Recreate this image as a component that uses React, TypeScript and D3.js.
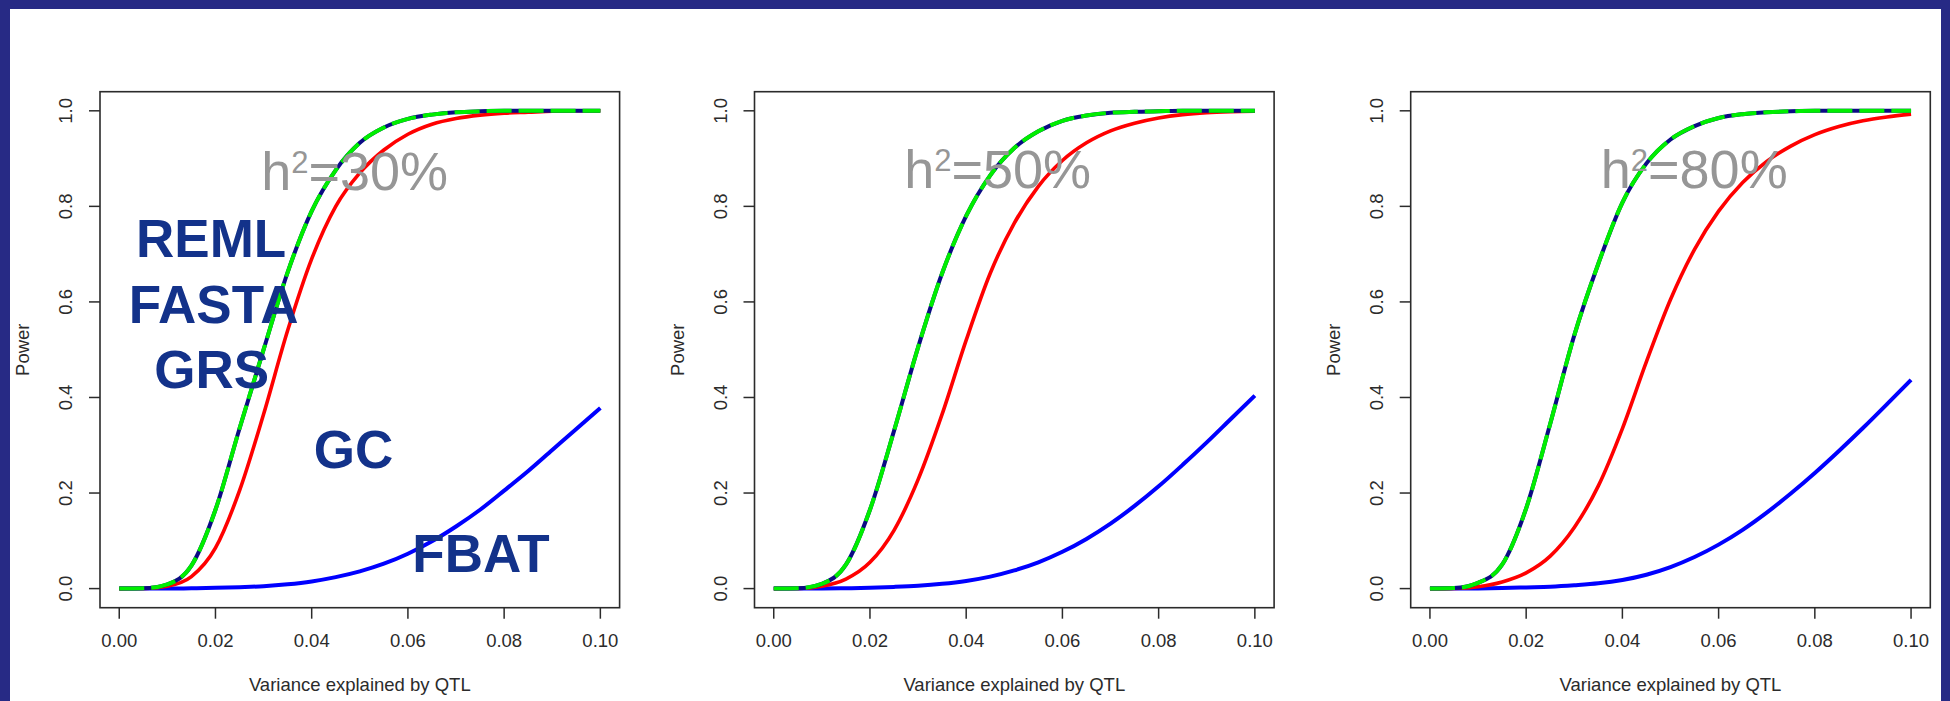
import React from "react";
import * as d3 from "d3";

// variance explained by the QTL (x) where the power curves were read
const varianceGrid = [
  0, 0.005, 0.01, 0.015, 0.02, 0.025, 0.03, 0.035, 0.04, 0.045, 0.05,
  0.055, 0.06, 0.065, 0.07, 0.075, 0.08, 0.085, 0.09, 0.095, 0.1,
];

// REML / FASTA / GRS (overlapping, navy + green dashed)
const remlPower30 = [0, 0.0005, 0.009, 0.048, 0.165, 0.335, 0.5, 0.662, 0.79, 0.876, 0.933, 0.965, 0.983, 0.992, 0.997, 0.999, 1, 1, 1, 1, 1];
const remlPower50 = [0, 0.0005, 0.01, 0.05, 0.165, 0.33, 0.505, 0.66, 0.78, 0.865, 0.922, 0.957, 0.979, 0.99, 0.996, 0.998, 0.999, 1, 1, 1, 1];
const remlPower80 = [0, 0.001, 0.012, 0.05, 0.168, 0.345, 0.53, 0.68, 0.808, 0.89, 0.94, 0.968, 0.985, 0.993, 0.997, 0.999, 1, 1, 1, 1, 1];

// GC (red)
const gcPower30 = [0, 0.0003, 0.005, 0.025, 0.085, 0.205, 0.365, 0.54, 0.69, 0.8, 0.87, 0.918, 0.951, 0.972, 0.984, 0.991, 0.995, 0.997, 0.999, 1, 1];
const gcPower50 = [0, 0.0003, 0.005, 0.02, 0.055, 0.122, 0.228, 0.365, 0.52, 0.66, 0.765, 0.842, 0.896, 0.933, 0.958, 0.974, 0.985, 0.992, 0.996, 0.998, 0.999];
const gcPower80 = [0, 0.0005, 0.004, 0.014, 0.033, 0.068, 0.128, 0.215, 0.335, 0.475, 0.605, 0.71, 0.79, 0.85, 0.894, 0.926, 0.95, 0.967, 0.979, 0.987, 0.993];

// FBAT (blue)
const fbatPower30 = [0, 0, 0.0002, 0.0006, 0.0015, 0.003, 0.005, 0.009, 0.015, 0.024, 0.036, 0.052, 0.073, 0.099, 0.13, 0.165, 0.205, 0.246, 0.29, 0.334, 0.378];
const fbatPower50 = [0, 0, 0.0002, 0.0007, 0.0017, 0.0035, 0.006, 0.01, 0.016, 0.025, 0.038, 0.055, 0.077, 0.104, 0.136, 0.173, 0.214, 0.259, 0.306, 0.355, 0.404];
const fbatPower80 = [0, 0, 0.0003, 0.001, 0.0025, 0.004, 0.007, 0.011, 0.018, 0.029, 0.045, 0.066, 0.092, 0.123, 0.159, 0.199, 0.242, 0.288, 0.336, 0.386, 0.437];

const heritabilities = ["30%", "50%", "80%"];
const methodLabels = ["REML", "FASTA", "GRS", "GC", "FBAT"];

const xTicks = [0, 0.02, 0.04, 0.06, 0.08, 0.1];
const yTicks = [0, 0.2, 0.4, 0.6, 0.8, 1.0];

const W = 1950;
const H = 701;
const frame = "#272a85";
const font = "'Liberation Sans', Arial, sans-serif";
const axisColor = "#2b2b2b";

const panelLefts = [100, 754.5, 1410.7];
const plotTop = 91.7;
const plotW = 519.6;
const plotH = 516;

// where the h2 text and the method names sit, in data units
const h2Pos = [
  { x: 0.0295, y: 0.834 },
  { x: 0.0271, y: 0.838 },
  { x: 0.0355, y: 0.838 },
];
const labelPos = [
  { x: 0.0191, y: 0.693 },
  { x: 0.0196, y: 0.555 },
  { x: 0.0192, y: 0.419 },
  { x: 0.0487, y: 0.252 },
  { x: 0.0752, y: 0.035 },
];

const panelData = [
  { reml: remlPower30, gc: gcPower30, fbat: fbatPower30 },
  { reml: remlPower50, gc: gcPower50, fbat: fbatPower50 },
  { reml: remlPower80, gc: gcPower80, fbat: fbatPower80 },
];

function Panel({ i }: { i: number }) {
  const left = panelLefts[i];
  const bottom = plotTop + plotH;
  const x = d3.scaleLinear().domain([-0.004, 0.104]).range([left, left + plotW]);
  const y = d3.scaleLinear().domain([-0.04, 1.04]).range([bottom, plotTop]);

  const line = (vals: number[]) =>
    d3
      .line<number>()
      .x((d, j) => x(varianceGrid[j]))
      .y((d) => y(d))
      .curve(d3.curveMonotoneX)(vals) as string;

  const data = panelData[i];

  return (
    <g>
      <rect x={left} y={plotTop} width={plotW} height={plotH} fill="none" stroke={axisColor} strokeWidth={1.6} />

      {/* y axis */}
      {yTicks.map((t) => (
        <g key={"y" + t}>
          <line x1={left - 11} x2={left} y1={y(t)} y2={y(t)} stroke={axisColor} strokeWidth={1.5} />
          <text
            transform={`translate(${left - 34},${y(t)}) rotate(-90)`}
            textAnchor="middle"
            dy="0.35em"
            fontSize={18.5}
            fontFamily={font}
            fill={axisColor}
          >
            {t.toFixed(1)}
          </text>
        </g>
      ))}
      <text
        transform={`translate(${left - 77},${plotTop + plotH / 2}) rotate(-90)`}
        textAnchor="middle"
        dy="0.35em"
        fontSize={18.5}
        fontFamily={font}
        fill={axisColor}
      >
        Power
      </text>

      {/* x axis */}
      {xTicks.map((t) => (
        <g key={"x" + t}>
          <line x1={x(t)} x2={x(t)} y1={bottom} y2={bottom + 11} stroke={axisColor} strokeWidth={1.5} />
          <text x={x(t)} y={bottom + 33} dy="0.35em" textAnchor="middle" fontSize={18.5} fontFamily={font} fill={axisColor}>
            {t.toFixed(2)}
          </text>
        </g>
      ))}
      <text
        x={left + plotW / 2}
        y={bottom + 77}
        dy="0.35em"
        textAnchor="middle"
        fontSize={18.5}
        fontFamily={font}
        fill={axisColor}
      >
        Variance explained by QTL
      </text>

      {/* curves */}
      <path d={line(data.fbat)} fill="none" stroke="#0000ff" strokeWidth={4} />
      <path d={line(data.gc)} fill="none" stroke="#ff0000" strokeWidth={3.6} />
      <path d={line(data.reml)} fill="none" stroke="#0b0b84" strokeWidth={4} />
      <path d={line(data.reml)} fill="none" stroke="#00ee00" strokeWidth={4} strokeDasharray="25 7" />

      {/* heritability */}
      <text x={x(h2Pos[i].x)} y={y(h2Pos[i].y)} fontSize={54} fontFamily={font} fill="#969696">
        h<tspan fontSize={31} dy={-17}>2</tspan>
        <tspan dy={17}>={heritabilities[i]}</tspan>
      </text>

      {i === 0 &&
        methodLabels.map((m, k) => (
          <text
            key={m}
            x={x(labelPos[k].x)}
            y={y(labelPos[k].y)}
            textAnchor="middle"
            fontSize={53}
            fontWeight="bold"
            fontFamily={font}
            fill="#13328a"
          >
            {m}
          </text>
        ))}
    </g>
  );
}

export default function App() {
  return (
    <svg
      width={W}
      height={H}
      viewBox={`0 0 ${W} ${H}`}
      style={{ position: "absolute", left: 0, top: 0, display: "block" }}
    >
      <rect x={0} y={0} width={W} height={H} fill={frame} />
      <rect x={10} y={9} width={1931} height={H - 9} fill="#ffffff" />
      {[0, 1, 2].map((i) => (
        <Panel key={i} i={i} />
      ))}
    </svg>
  );
}
